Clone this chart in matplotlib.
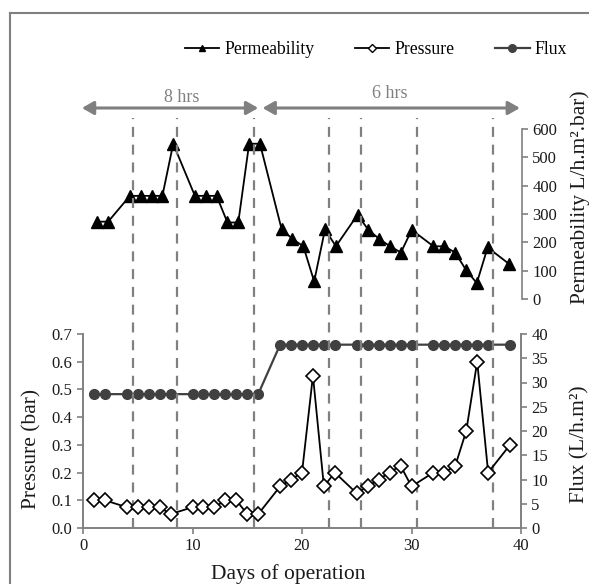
import numpy as np
import matplotlib
matplotlib.use("Agg")
import matplotlib.pyplot as plt
from matplotlib.lines import Line2D

plt.rcParams['font.family'] = ['Liberation Serif', 'DejaVu Serif']

# ---- data ----
days = [1, 2, 4, 5, 6, 7, 8, 10, 11, 12, 13, 14, 15, 16, 18, 19, 20, 21, 22, 23,
        25, 26, 27, 28, 29, 30, 32, 33, 34, 35, 36, 37, 39]
permeability = [273, 273, 364, 364, 364, 364, 548, 364, 364, 364, 270, 270, 548, 548,
                246, 212, 186, 62, 246, 186, 297, 244, 212, 186, 164, 244, 186, 186,
                164, 103, 56, 182, 123]
pressure = [0.10, 0.10, 0.075, 0.075, 0.075, 0.075, 0.05, 0.075, 0.075, 0.075, 0.10, 0.10,
            0.05, 0.05, 0.15, 0.175, 0.20, 0.55, 0.15, 0.20, 0.125, 0.15, 0.175, 0.20,
            0.225, 0.15, 0.20, 0.20, 0.225, 0.35, 0.60, 0.20, 0.30]
flux = [27.6] * 14 + [37.8] * 19
switch_days = [4.6, 8.6, 15.6, 22.5, 25.4, 30.5, 37.4]
# label, arrow start, arrow end, label x (days)
periods = [("8 hrs", -0.1, 16.0, 9.0), ("6 hrs", 16.4, 39.9, 28.0)]

GRAY = '#808080'
TXT = '#1a1a1a'
LBL = 15.5

fig = plt.figure(figsize=(5.89, 5.84), dpi=100)
W, H = 589.0, 584.0

def box(l, t, r, b):
    return [l / W, (H - b) / H, (r - l) / W, (b - t) / H]

def style_axis(a):
    for s in ['left', 'bottom', 'right']:
        a.spines[s].set_color(GRAY)
        a.spines[s].set_linewidth(1.2)
    a.spines['top'].set_visible(False)
    a.tick_params(colors=GRAY, labelcolor=TXT, labelsize=12, length=4, width=1.2)

# ---- bottom panel: pressure + flux ----
ax = fig.add_axes(box(83, 334, 521, 528))
ax.plot(days, pressure, color='black', lw=1.3, marker='D', ms=7.5,
        mfc='white', mec='black', mew=1.2, zorder=4)
ax.set_xlim(0, 40)
ax.set_ylim(0, 0.7)
ax.set_xticks([0, 10, 20, 30, 40])
ax.set_yticks(np.arange(0, 0.71, 0.1))
ax.yaxis.set_major_formatter(matplotlib.ticker.FormatStrFormatter('%.1f'))
ax.set_ylabel("Pressure (bar)", fontsize=LBL, color=TXT)
ax.set_xlabel("Days of operation", fontsize=LBL, color=TXT)
ax.yaxis.set_label_coords(-0.095, 0.41)
ax.xaxis.set_label_coords(0.468, -0.185)
style_axis(ax)

ax2 = ax.twinx()
ax2.plot(days, flux, color='#404040', lw=1.6, marker='o', ms=7,
         mfc='#404040', mec='#404040', zorder=3)
ax2.set_ylim(0, 40)
ax2.set_yticks(range(0, 41, 5))
ax2.set_ylabel("Flux (L/h.m²)", fontsize=LBL, color=TXT)
ax2.yaxis.set_label_coords(1.113, 0.43)
style_axis(ax2)
ax.set_zorder(ax2.get_zorder() + 1)
ax.patch.set_visible(False)

# ---- top panel: permeability ----
axt = fig.add_axes(box(86.5, 129, 522, 299))
axt.plot(days, permeability, color='black', lw=1.3, marker='^', ms=8,
         mfc='black', mec='black')
axt.set_xlim(0, 40.17)
axt.set_ylim(0, 600)
axt.patch.set_visible(False)
for s in ['left', 'top', 'bottom']:
    axt.spines[s].set_visible(False)
axt.spines['right'].set_color(GRAY)
axt.spines['right'].set_linewidth(1.2)
axt.yaxis.tick_right()
axt.yaxis.set_label_position('right')
axt.set_xticks([])
axt.set_yticks(range(0, 601, 100))
axt.tick_params(colors=GRAY, labelcolor=TXT, labelsize=12, length=4, width=1.2)
axt.set_ylabel("Permeability L/h.m².bar)", fontsize=LBL, color=TXT)
axt.yaxis.set_label_coords(1.111, 0.60)

# ---- dashed switch lines across both panels ----
y_top = (H - 118) / H
y_bot = (H - 528) / H
trans = matplotlib.transforms.blended_transform_factory(ax.transData, fig.transFigure)
for d in switch_days:
    ax.plot([d, d], [y_bot, y_top], transform=trans, color=GRAY, lw=1.6,
            ls=(0, (4.5, 3.5)), clip_on=False, zorder=1)

# ---- period arrows ----
y_arr = (H - 108) / H
for (label, x0, x1, xt), ty in zip(periods, [98, 93]):
    ax.annotate("", xy=(x1, y_arr), xytext=(x0, y_arr),
                xycoords=('data', 'figure fraction'), textcoords=('data', 'figure fraction'),
                arrowprops=dict(arrowstyle='<|-|>,head_length=0.7,head_width=0.4',
                                color=GRAY, lw=2.2, shrinkA=0, shrinkB=0))
    ax.annotate(label, xy=(xt, (H - ty) / H), xycoords=('data', 'figure fraction'),
                ha='center', va='center', fontsize=13, color=GRAY)

# ---- legend ----
handles = [Line2D([], [], color='black', lw=1.3, marker='^', ms=5, mfc='black'),
           Line2D([], [], color='black', lw=1.3, marker='D', ms=4, mfc='white', mec='black'),
           Line2D([], [], color='#404040', lw=1.6, marker='o', ms=5.5, mfc='#404040')]
fig.legend(handles, ["Permeability", "Pressure", "Flux"], loc='center',
           bbox_to_anchor=(376 / W, (H - 50) / H), ncol=3, frameon=False,
           fontsize=12.7, handlelength=1.95, columnspacing=2.3, handletextpad=0.3)

# ---- outer frame (cropped) ----
fig.add_artist(Line2D([10 / W, 1.0], [(H - 13) / H] * 2, color=GRAY, lw=1.5))
fig.add_artist(Line2D([10 / W] * 2, [0.0, (H - 13) / H], color=GRAY, lw=1.5))

fig.savefig("out.png", dpi=100)
